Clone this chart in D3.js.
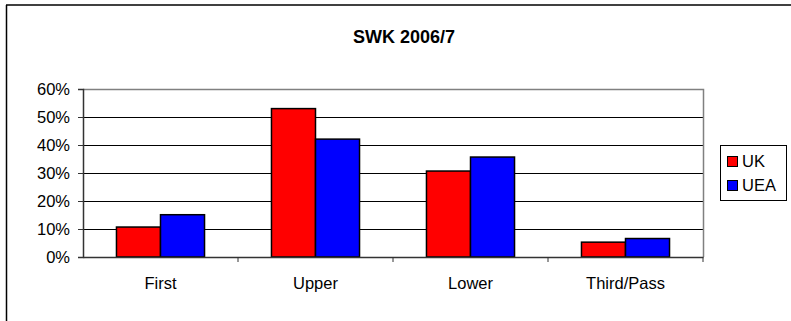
<!DOCTYPE html>
<html>
<head>
<meta charset="utf-8">
<script src="https://cdn.jsdelivr.net/npm/d3@7"></script>
<style>
  html, body { margin: 0; padding: 0; background: #fff; }
  svg { display: block; font-family: "Liberation Sans", Arial, sans-serif; }
</style>
</head>
<body>
<svg id="chart" width="791" height="321"></svg>
<script>
// Degree classification shares, SWK 2006/7
const categories = ["First", "Upper", "Lower", "Third/Pass"];
const seriesNames = ["UK", "UEA"];
const ukValues = [0.107, 0.530, 0.307, 0.053];
const ueaValues = [0.151, 0.421, 0.357, 0.066];
const seriesColors = ["#ff0000", "#0000ff"];
const yTicks = [0, 0.1, 0.2, 0.3, 0.4, 0.5, 0.6];
const title = "SWK 2006/7";

const values = [ukValues, ueaValues];
const svg = d3.select("#chart");
const FONT = "Liberation Sans, Arial, sans-serif";
const LABEL_SIZE = 16.5;

// Outer frame
svg.append("line").attr("x1", 6).attr("x2", 791).attr("y1", 5).attr("y2", 5)
  .attr("stroke", "#000").attr("stroke-width", 1.5);
svg.append("line").attr("x1", 6.5).attr("x2", 6.5).attr("y1", 5).attr("y2", 321)
  .attr("stroke", "#000").attr("stroke-width", 1.5);

const plot = { left: 83, right: 703, top: 89, bottom: 257 };

const x = d3.scaleBand().domain(categories).range([plot.left, plot.right]);
const xs = d3.scaleBand().domain(seriesNames)
  .range([0, x.bandwidth()]).paddingInner(0).paddingOuter(0.76);
const y = d3.scaleLinear().domain([0, 0.6]).range([plot.bottom, plot.top]);

// Title
svg.append("text").attr("x", 404).attr("y", 43).attr("text-anchor", "middle")
  .attr("font-size", 18).attr("font-weight", "bold").text(title);

// Gridlines
svg.append("g").selectAll("line").data(yTicks.slice(1, -1)).join("line")
  .attr("x1", plot.left).attr("x2", plot.right)
  .attr("y1", d => Math.round(y(d)) + 0.5).attr("y2", d => Math.round(y(d)) + 0.5)
  .attr("stroke", "#000").attr("stroke-width", 1);

// Plot area border (top and right)
svg.append("path")
  .attr("d", `M${plot.left},${plot.top + 0.5}H${plot.right + 0.5}V${plot.bottom}`)
  .attr("fill", "none").attr("stroke", "#808080").attr("stroke-width", 1.5);

// Bars
const groups = svg.append("g").selectAll("g").data(seriesNames).join("g");
groups.each(function(name, si) {
  d3.select(this).selectAll("rect").data(categories).join("rect")
    .attr("x", c => x(c) + xs(name))
    .attr("y", (c, i) => y(values[si][i]))
    .attr("width", xs.bandwidth())
    .attr("height", (c, i) => y(0) - y(values[si][i]))
    .attr("fill", seriesColors[si])
    .attr("stroke", "#000").attr("stroke-width", 1.5);
});

// Y axis
const yAxis = d3.axisLeft(y).tickValues(yTicks).tickFormat(d3.format(".0%"))
  .tickSize(5).tickPadding(8);
const gy = svg.append("g").attr("transform", `translate(${plot.left},0)`).call(yAxis);
gy.select(".domain").attr("stroke", "#333").attr("stroke-width", 1.5);
gy.selectAll(".tick line").attr("stroke", "#333");
gy.selectAll(".tick text").attr("font-size", LABEL_SIZE)
  .attr("font-family", FONT).attr("fill", "#000");

// X axis with ticks between categories
const xAxis = d3.axisBottom(x).tickSize(0).tickPadding(20);
const gx = svg.append("g").attr("transform", `translate(0,${plot.bottom})`).call(xAxis);
gx.select(".domain").attr("stroke", "#333").attr("stroke-width", 1.5);
gx.selectAll(".tick text").attr("font-size", LABEL_SIZE)
  .attr("font-family", FONT).attr("fill", "#000");
svg.append("g").selectAll("line").data(categories).join("line")
  .attr("x1", c => x(c) + x.bandwidth()).attr("x2", c => x(c) + x.bandwidth())
  .attr("y1", plot.bottom).attr("y2", plot.bottom + 5)
  .attr("stroke", "#333").attr("stroke-width", 1);

// Legend
const legend = svg.append("g");
legend.append("rect").attr("x", 720.5).attr("y", 145.5).attr("width", 66).attr("height", 55)
  .attr("fill", "#fff").attr("stroke", "#000").attr("stroke-width", 1);
const items = legend.selectAll("g.item").data(seriesNames).join("g")
  .attr("class", "item")
  .attr("transform", (d, i) => `translate(727,${161 + i * 24})`);
items.append("rect").attr("x", 0.5).attr("y", -4.5).attr("width", 10).attr("height", 10)
  .attr("fill", (d, i) => seriesColors[i]).attr("stroke", "#000").attr("stroke-width", 1);
items.append("text").attr("x", 15).attr("y", 0).attr("dy", "0.36em")
  .attr("font-size", LABEL_SIZE).text(d => d);
</script>
</body>
</html>
